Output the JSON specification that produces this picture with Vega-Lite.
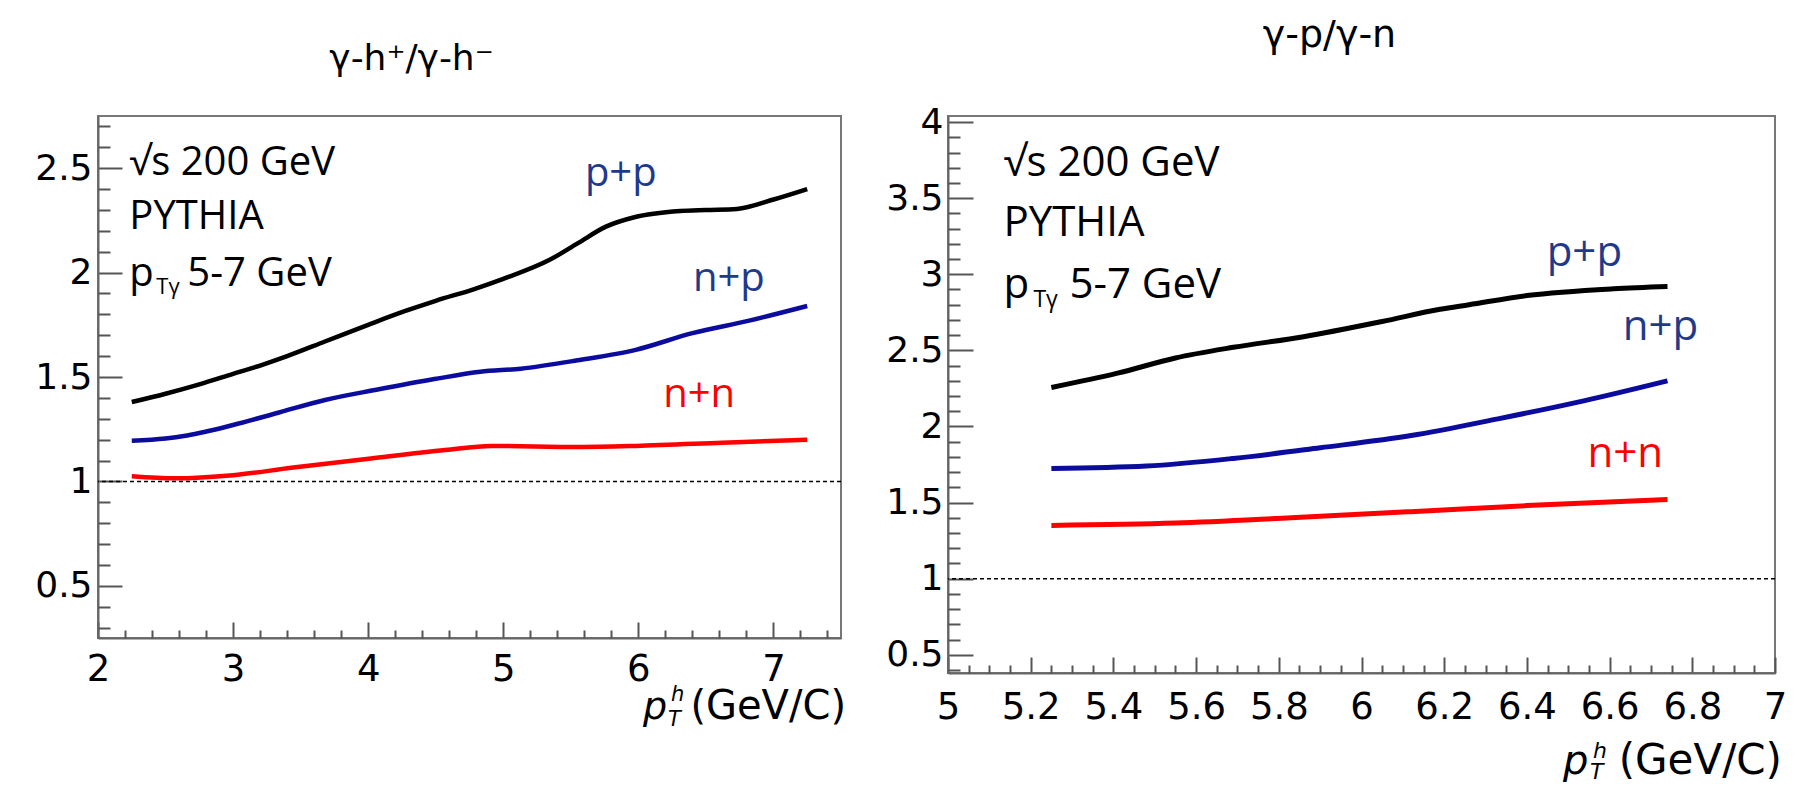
{
  "$schema": "https://vega.github.io/schema/vega-lite/v6.json",
  "background": "white",
  "padding": {"left": 33, "top": 16, "right": 0, "bottom": 0},
  "config": {
    "view": {"stroke": "#777", "strokeWidth": 2},
    "axis": {"grid": false, "title": null, "labelOverlap": false, "labelFlush": false, "labelBound": false, "tickColor": "#555", "tickWidth": 2, "domainColor": "#666", "domainWidth": 2, "labelColor": "black", "labelFont": "DejaVu Sans"}
  },
  "datasets": {
    "left": [
      {"x": 2.25, "v": 1.38, "s": "p+p"}, {"x": 2.5, "v": 1.42, "s": "p+p"}, {"x": 2.75, "v": 1.465, "s": "p+p"},
      {"x": 3.0, "v": 1.515, "s": "p+p"}, {"x": 3.2, "v": 1.555, "s": "p+p"}, {"x": 3.4, "v": 1.6, "s": "p+p"},
      {"x": 3.68, "v": 1.67, "s": "p+p"}, {"x": 4.0, "v": 1.75, "s": "p+p"}, {"x": 4.27, "v": 1.815, "s": "p+p"},
      {"x": 4.5, "v": 1.865, "s": "p+p"}, {"x": 4.78, "v": 1.92, "s": "p+p"}, {"x": 5.0, "v": 1.97, "s": "p+p"},
      {"x": 5.34, "v": 2.06, "s": "p+p"}, {"x": 5.55, "v": 2.14, "s": "p+p"}, {"x": 5.76, "v": 2.22, "s": "p+p"},
      {"x": 5.97, "v": 2.265, "s": "p+p"}, {"x": 6.31, "v": 2.295, "s": "p+p"}, {"x": 6.5, "v": 2.3, "s": "p+p"},
      {"x": 6.73, "v": 2.305, "s": "p+p"}, {"x": 7.0, "v": 2.35, "s": "p+p"}, {"x": 7.25, "v": 2.4, "s": "p+p"},
      {"x": 2.25, "v": 1.195, "s": "n+p"}, {"x": 2.5, "v": 1.205, "s": "n+p"}, {"x": 2.66, "v": 1.22, "s": "n+p"},
      {"x": 3.0, "v": 1.27, "s": "n+p"}, {"x": 3.34, "v": 1.33, "s": "n+p"}, {"x": 3.68, "v": 1.39, "s": "n+p"},
      {"x": 4.07, "v": 1.44, "s": "n+p"}, {"x": 4.49, "v": 1.49, "s": "n+p"}, {"x": 4.83, "v": 1.525, "s": "n+p"},
      {"x": 5.13, "v": 1.54, "s": "n+p"}, {"x": 5.55, "v": 1.58, "s": "n+p"}, {"x": 5.98, "v": 1.63, "s": "n+p"},
      {"x": 6.4, "v": 1.71, "s": "n+p"}, {"x": 6.82, "v": 1.77, "s": "n+p"}, {"x": 7.25, "v": 1.84, "s": "n+p"},
      {"x": 2.25, "v": 1.025, "s": "n+n"}, {"x": 2.57, "v": 1.015, "s": "n+n"}, {"x": 3.0, "v": 1.03, "s": "n+n"},
      {"x": 3.43, "v": 1.065, "s": "n+n"}, {"x": 4.02, "v": 1.11, "s": "n+n"}, {"x": 4.57, "v": 1.15, "s": "n+n"},
      {"x": 4.91, "v": 1.17, "s": "n+n"}, {"x": 5.55, "v": 1.165, "s": "n+n"}, {"x": 5.98, "v": 1.17, "s": "n+n"},
      {"x": 6.62, "v": 1.185, "s": "n+n"}, {"x": 7.25, "v": 1.2, "s": "n+n"}
    ],
    "right": [
      {"x": 5.25, "v": 2.256, "s": "p+p"}, {"x": 5.41, "v": 2.35, "s": "p+p"}, {"x": 5.55, "v": 2.45, "s": "p+p"},
      {"x": 5.69, "v": 2.52, "s": "p+p"}, {"x": 5.86, "v": 2.59, "s": "p+p"}, {"x": 6.05, "v": 2.69, "s": "p+p"},
      {"x": 6.19, "v": 2.77, "s": "p+p"}, {"x": 6.26, "v": 2.8, "s": "p+p"}, {"x": 6.4, "v": 2.86, "s": "p+p"},
      {"x": 6.61, "v": 2.905, "s": "p+p"}, {"x": 6.74, "v": 2.92, "s": "p+p"},
      {"x": 5.25, "v": 1.724, "s": "n+p"}, {"x": 5.48, "v": 1.74, "s": "n+p"}, {"x": 5.69, "v": 1.79, "s": "n+p"},
      {"x": 5.9, "v": 1.86, "s": "n+p"}, {"x": 6.12, "v": 1.94, "s": "n+p"}, {"x": 6.33, "v": 2.05, "s": "n+p"},
      {"x": 6.54, "v": 2.17, "s": "n+p"}, {"x": 6.74, "v": 2.3, "s": "n+p"},
      {"x": 5.25, "v": 1.35, "s": "n+n"}, {"x": 5.55, "v": 1.365, "s": "n+n"}, {"x": 5.83, "v": 1.4, "s": "n+n"},
      {"x": 6.12, "v": 1.44, "s": "n+n"}, {"x": 6.4, "v": 1.48, "s": "n+n"}, {"x": 6.74, "v": 1.52, "s": "n+n"}
    ],
    "refLine": [{"v": 1}],
    "leftNotes": [
      {"x": 2.232, "v": 2.467, "t": "√s 200 GeV"},
      {"x": 2.232, "v": 2.21, "t": "PYTHIA"},
      {"x": 2.232, "v": 1.936, "t": "p"}
    ],
    "leftSub": [{"x": 2.232, "v": 1.936, "t": "Tγ"}],
    "leftRest": [{"x": 2.232, "v": 1.936, "t": "5-7 GeV"}],
    "leftBlueLabels": [
      {"x": 5.87, "v": 2.416, "t": "p+p"},
      {"x": 6.67, "v": 1.913, "t": "n+p"}
    ],
    "leftRedLabels": [{"x": 6.45, "v": 1.355, "t": "n+n"}],
    "rightNotes": [
      {"x": 5.134, "v": 3.649, "t": "√s 200 GeV"},
      {"x": 5.134, "v": 3.253, "t": "PYTHIA"},
      {"x": 5.134, "v": 2.846, "t": "p"}
    ],
    "rightSub": [{"x": 5.134, "v": 2.846, "t": "Tγ"}],
    "rightRest": [{"x": 5.134, "v": 2.846, "t": "5-7 GeV"}],
    "rightBlueLabels": [
      {"x": 6.539, "v": 3.055, "t": "p+p"},
      {"x": 6.723, "v": 2.571, "t": "n+p"}
    ],
    "rightRedLabels": [{"x": 6.638, "v": 1.735, "t": "n+n"}],
    "leftCorner": [{"x": 7.5, "v": 0.25}],
    "rightCorner": [{"x": 7, "v": 0.38}]
  },
  "hconcat": [
    {
      "width": 743,
      "height": 522,
      "title": {"text": "γ-h⁺/γ-h⁻", "font": "DejaVu Sans", "fontSize": 36, "fontWeight": "normal", "color": "black", "anchor": "middle", "dx": -58, "offset": 10, "baseline": "alphabetic"},
      "resolve": {"axis": {"x": "independent", "y": "independent"}},
      "layer": [
        {
          "data": {"name": "left"},
          "mark": {"type": "line", "interpolate": "monotone", "strokeWidth": 4.5},
          "encoding": {
            "x": {"field": "x", "type": "quantitative", "title": null,
              "scale": {"domain": [2, 7.5], "nice": false, "zero": false},
              "axis": {"orient": "bottom", "values": [2, 3, 4, 5, 6, 7], "tickSize": -16, "labelPadding": 29, "labelFontSize": 37, "format": "~g"}},
            "y": {"field": "v", "type": "quantitative", "title": null,
              "scale": {"domain": [0.25, 2.75], "nice": false, "zero": false},
              "axis": {"orient": "left", "values": [0.5, 1, 1.5, 2, 2.5], "tickSize": -24, "labelPadding": 30, "labelFontSize": 36, "format": "~g"}},
            "color": {"field": "s", "type": "nominal", "legend": null,
              "scale": {"domain": ["p+p", "n+p", "n+n"], "range": ["#000000", "#0b0b9e", "#ff0000"]}}
          }
        },
        {
          "data": {"name": "refLine"},
          "mark": {"type": "rule", "color": "black", "strokeWidth": 1.5, "strokeDash": [4, 3]},
          "encoding": {"y": {"field": "v", "type": "quantitative", "axis": null, "scale": {"domain": [0.25, 2.75], "nice": false, "zero": false}}}
        },
        {
          "data": {"name": "leftNotes"},
          "mark": {"type": "text", "font": "Open Sans", "fontSize": 40, "align": "left", "baseline": "alphabetic", "color": "black"},
          "encoding": {
            "x": {"field": "x", "type": "quantitative", "title": null, "scale": {"domain": [2, 7.5], "nice": false, "zero": false},
              "axis": {"orient": "bottom", "values": [2.2, 2.4, 2.6, 2.8, 3.2, 3.4, 3.6, 3.8, 4.2, 4.4, 4.6, 4.8, 5.2, 5.4, 5.6, 5.8, 6.2, 6.4, 6.6, 6.8, 7.2, 7.4], "tickSize": -8, "labels": false, "domain": false}},
            "y": {"field": "v", "type": "quantitative", "title": null, "scale": {"domain": [0.25, 2.75], "nice": false, "zero": false},
              "axis": {"orient": "left", "values": [0.3, 0.4, 0.6, 0.7, 0.8, 0.9, 1.1, 1.2, 1.3, 1.4, 1.6, 1.7, 1.8, 1.9, 2.1, 2.2, 2.3, 2.4, 2.6, 2.7], "tickSize": -12, "labels": false, "domain": false}},
            "text": {"field": "t"}
          }
        },
        {
          "data": {"name": "leftSub"},
          "mark": {"type": "text", "font": "Open Sans", "fontSize": 22, "align": "left", "baseline": "alphabetic", "color": "black", "dx": 27, "dy": 8},
          "encoding": {
            "x": {"field": "x", "type": "quantitative", "axis": null, "scale": {"domain": [2, 7.5], "nice": false, "zero": false}},
            "y": {"field": "v", "type": "quantitative", "axis": null, "scale": {"domain": [0.25, 2.75], "nice": false, "zero": false}},
            "text": {"field": "t"}
          }
        },
        {
          "data": {"name": "leftRest"},
          "mark": {"type": "text", "font": "Open Sans", "fontSize": 40, "align": "left", "baseline": "alphabetic", "color": "black", "dx": 58},
          "encoding": {
            "x": {"field": "x", "type": "quantitative", "axis": null, "scale": {"domain": [2, 7.5], "nice": false, "zero": false}},
            "y": {"field": "v", "type": "quantitative", "axis": null, "scale": {"domain": [0.25, 2.75], "nice": false, "zero": false}},
            "text": {"field": "t"}
          }
        },
        {
          "data": {"name": "leftBlueLabels"},
          "mark": {"type": "text", "font": "Open Sans", "fontSize": 40, "align": "center", "baseline": "alphabetic", "color": "#1f3a8a"},
          "encoding": {
            "x": {"field": "x", "type": "quantitative", "axis": null, "scale": {"domain": [2, 7.5], "nice": false, "zero": false}},
            "y": {"field": "v", "type": "quantitative", "axis": null, "scale": {"domain": [0.25, 2.75], "nice": false, "zero": false}},
            "text": {"field": "t"}
          }
        },
        {
          "data": {"name": "leftRedLabels"},
          "mark": {"type": "text", "font": "Open Sans", "fontSize": 40, "align": "center", "baseline": "alphabetic", "color": "#ff0000"},
          "encoding": {
            "x": {"field": "x", "type": "quantitative", "axis": null, "scale": {"domain": [2, 7.5], "nice": false, "zero": false}},
            "y": {"field": "v", "type": "quantitative", "axis": null, "scale": {"domain": [0.25, 2.75], "nice": false, "zero": false}},
            "text": {"field": "t"}
          }
        },
        {
          "data": {"name": "leftCorner"},
          "mark": {"type": "text", "font": "DejaVu Sans", "fontSize": 40, "align": "right", "baseline": "alphabetic", "color": "black", "dx": 5, "dy": 81, "text": "(GeV/C)"},
          "encoding": {
            "x": {"field": "x", "type": "quantitative", "axis": null, "scale": {"domain": [2, 7.5], "nice": false, "zero": false}},
            "y": {"field": "v", "type": "quantitative", "axis": null, "scale": {"domain": [0.25, 2.75], "nice": false, "zero": false}}
          }
        },
        {
          "data": {"name": "leftCorner"},
          "mark": {"type": "text", "font": "DejaVu Sans", "fontSize": 38, "fontStyle": "italic", "align": "left", "baseline": "alphabetic", "color": "black", "dx": -198, "dy": 81, "text": "p"},
          "encoding": {
            "x": {"field": "x", "type": "quantitative", "axis": null, "scale": {"domain": [2, 7.5], "nice": false, "zero": false}},
            "y": {"field": "v", "type": "quantitative", "axis": null, "scale": {"domain": [0.25, 2.75], "nice": false, "zero": false}}
          }
        },
        {
          "data": {"name": "leftCorner"},
          "mark": {"type": "text", "font": "DejaVu Sans", "fontSize": 21, "fontStyle": "italic", "align": "left", "baseline": "alphabetic", "color": "black", "dx": -170, "dy": 63, "text": "h"},
          "encoding": {
            "x": {"field": "x", "type": "quantitative", "axis": null, "scale": {"domain": [2, 7.5], "nice": false, "zero": false}},
            "y": {"field": "v", "type": "quantitative", "axis": null, "scale": {"domain": [0.25, 2.75], "nice": false, "zero": false}}
          }
        },
        {
          "data": {"name": "leftCorner"},
          "mark": {"type": "text", "font": "DejaVu Sans", "fontSize": 21, "fontStyle": "italic", "align": "left", "baseline": "alphabetic", "color": "black", "dx": -173, "dy": 88, "text": "T"},
          "encoding": {
            "x": {"field": "x", "type": "quantitative", "axis": null, "scale": {"domain": [2, 7.5], "nice": false, "zero": false}},
            "y": {"field": "v", "type": "quantitative", "axis": null, "scale": {"domain": [0.25, 2.75], "nice": false, "zero": false}}
          }
        }
      ]
    },
    {
      "width": 827,
      "height": 557,
      "title": {"text": "γ-p/γ-n", "font": "DejaVu Sans", "fontSize": 38, "fontWeight": "normal", "color": "black", "anchor": "middle", "dx": -32, "offset": 19, "baseline": "alphabetic"},
      "resolve": {"axis": {"x": "independent", "y": "independent"}},
      "layer": [
        {
          "data": {"name": "right"},
          "mark": {"type": "line", "interpolate": "monotone", "strokeWidth": 5},
          "encoding": {
            "x": {"field": "x", "type": "quantitative", "title": null,
              "scale": {"domain": [5, 7], "nice": false, "zero": false},
              "axis": {"orient": "bottom", "values": [5, 5.2, 5.4, 5.6, 5.8, 6, 6.2, 6.4, 6.6, 6.8, 7], "tickSize": -16, "labelPadding": 32, "labelFontSize": 37, "format": "~g"}},
            "y": {"field": "v", "type": "quantitative", "title": null,
              "scale": {"domain": [0.38, 4.04], "nice": false, "zero": false},
              "axis": {"orient": "left", "values": [0.5, 1, 1.5, 2, 2.5, 3, 3.5, 4], "tickSize": -25, "labelPadding": 30, "labelFontSize": 36, "format": "~g"}},
            "color": {"field": "s", "type": "nominal", "legend": null,
              "scale": {"domain": ["p+p", "n+p", "n+n"], "range": ["#000000", "#0b0b9e", "#ff0000"]}}
          }
        },
        {
          "data": {"name": "refLine"},
          "mark": {"type": "rule", "color": "black", "strokeWidth": 1.5, "strokeDash": [4, 3]},
          "encoding": {"y": {"field": "v", "type": "quantitative", "axis": null, "scale": {"domain": [0.38, 4.04], "nice": false, "zero": false}}}
        },
        {
          "data": {"name": "rightNotes"},
          "mark": {"type": "text", "font": "Open Sans", "fontSize": 42, "align": "left", "baseline": "alphabetic", "color": "black"},
          "encoding": {
            "x": {"field": "x", "type": "quantitative", "title": null, "scale": {"domain": [5, 7], "nice": false, "zero": false},
              "axis": {"orient": "bottom", "values": [5.05, 5.1, 5.15, 5.25, 5.3, 5.35, 5.45, 5.5, 5.55, 5.65, 5.7, 5.75, 5.85, 5.9, 5.95, 6.05, 6.1, 6.15, 6.25, 6.3, 6.35, 6.45, 6.5, 6.55, 6.65, 6.7, 6.75, 6.85, 6.9, 6.95], "tickSize": -8, "labels": false, "domain": false}},
            "y": {"field": "v", "type": "quantitative", "title": null, "scale": {"domain": [0.38, 4.04], "nice": false, "zero": false},
              "axis": {"orient": "left", "values": [0.4, 0.6, 0.7, 0.8, 0.9, 1.1, 1.2, 1.3, 1.4, 1.6, 1.7, 1.8, 1.9, 2.1, 2.2, 2.3, 2.4, 2.6, 2.7, 2.8, 2.9, 3.1, 3.2, 3.3, 3.4, 3.6, 3.7, 3.8, 3.9], "tickSize": -12, "labels": false, "domain": false}},
            "text": {"field": "t"}
          }
        },
        {
          "data": {"name": "rightSub"},
          "mark": {"type": "text", "font": "Open Sans", "fontSize": 23, "align": "left", "baseline": "alphabetic", "color": "black", "dx": 30, "dy": 9},
          "encoding": {
            "x": {"field": "x", "type": "quantitative", "axis": null, "scale": {"domain": [5, 7], "nice": false, "zero": false}},
            "y": {"field": "v", "type": "quantitative", "axis": null, "scale": {"domain": [0.38, 4.04], "nice": false, "zero": false}},
            "text": {"field": "t"}
          }
        },
        {
          "data": {"name": "rightRest"},
          "mark": {"type": "text", "font": "Open Sans", "fontSize": 42, "align": "left", "baseline": "alphabetic", "color": "black", "dx": 66},
          "encoding": {
            "x": {"field": "x", "type": "quantitative", "axis": null, "scale": {"domain": [5, 7], "nice": false, "zero": false}},
            "y": {"field": "v", "type": "quantitative", "axis": null, "scale": {"domain": [0.38, 4.04], "nice": false, "zero": false}},
            "text": {"field": "t"}
          }
        },
        {
          "data": {"name": "rightBlueLabels"},
          "mark": {"type": "text", "font": "Open Sans", "fontSize": 42, "align": "center", "baseline": "alphabetic", "color": "#1f3a8a"},
          "encoding": {
            "x": {"field": "x", "type": "quantitative", "axis": null, "scale": {"domain": [5, 7], "nice": false, "zero": false}},
            "y": {"field": "v", "type": "quantitative", "axis": null, "scale": {"domain": [0.38, 4.04], "nice": false, "zero": false}},
            "text": {"field": "t"}
          }
        },
        {
          "data": {"name": "rightRedLabels"},
          "mark": {"type": "text", "font": "Open Sans", "fontSize": 42, "align": "center", "baseline": "alphabetic", "color": "#ff0000"},
          "encoding": {
            "x": {"field": "x", "type": "quantitative", "axis": null, "scale": {"domain": [5, 7], "nice": false, "zero": false}},
            "y": {"field": "v", "type": "quantitative", "axis": null, "scale": {"domain": [0.38, 4.04], "nice": false, "zero": false}},
            "text": {"field": "t"}
          }
        },
        {
          "data": {"name": "rightCorner"},
          "mark": {"type": "text", "font": "DejaVu Sans", "fontSize": 42, "align": "right", "baseline": "alphabetic", "color": "black", "dx": 7, "dy": 101, "text": "(GeV/C)"},
          "encoding": {
            "x": {"field": "x", "type": "quantitative", "axis": null, "scale": {"domain": [5, 7], "nice": false, "zero": false}},
            "y": {"field": "v", "type": "quantitative", "axis": null, "scale": {"domain": [0.38, 4.04], "nice": false, "zero": false}}
          }
        },
        {
          "data": {"name": "rightCorner"},
          "mark": {"type": "text", "font": "DejaVu Sans", "fontSize": 40, "fontStyle": "italic", "align": "left", "baseline": "alphabetic", "color": "black", "dx": -212, "dy": 101, "text": "p"},
          "encoding": {
            "x": {"field": "x", "type": "quantitative", "axis": null, "scale": {"domain": [5, 7], "nice": false, "zero": false}},
            "y": {"field": "v", "type": "quantitative", "axis": null, "scale": {"domain": [0.38, 4.04], "nice": false, "zero": false}}
          }
        },
        {
          "data": {"name": "rightCorner"},
          "mark": {"type": "text", "font": "DejaVu Sans", "fontSize": 22, "fontStyle": "italic", "align": "left", "baseline": "alphabetic", "color": "black", "dx": -182, "dy": 85, "text": "h"},
          "encoding": {
            "x": {"field": "x", "type": "quantitative", "axis": null, "scale": {"domain": [5, 7], "nice": false, "zero": false}},
            "y": {"field": "v", "type": "quantitative", "axis": null, "scale": {"domain": [0.38, 4.04], "nice": false, "zero": false}}
          }
        },
        {
          "data": {"name": "rightCorner"},
          "mark": {"type": "text", "font": "DejaVu Sans", "fontSize": 22, "fontStyle": "italic", "align": "left", "baseline": "alphabetic", "color": "black", "dx": -185, "dy": 106, "text": "T"},
          "encoding": {
            "x": {"field": "x", "type": "quantitative", "axis": null, "scale": {"domain": [5, 7], "nice": false, "zero": false}},
            "y": {"field": "v", "type": "quantitative", "axis": null, "scale": {"domain": [0.38, 4.04], "nice": false, "zero": false}}
          }
        }
      ]
    }
  ],
  "spacing": 107,
  "bounds": "flush"
}
